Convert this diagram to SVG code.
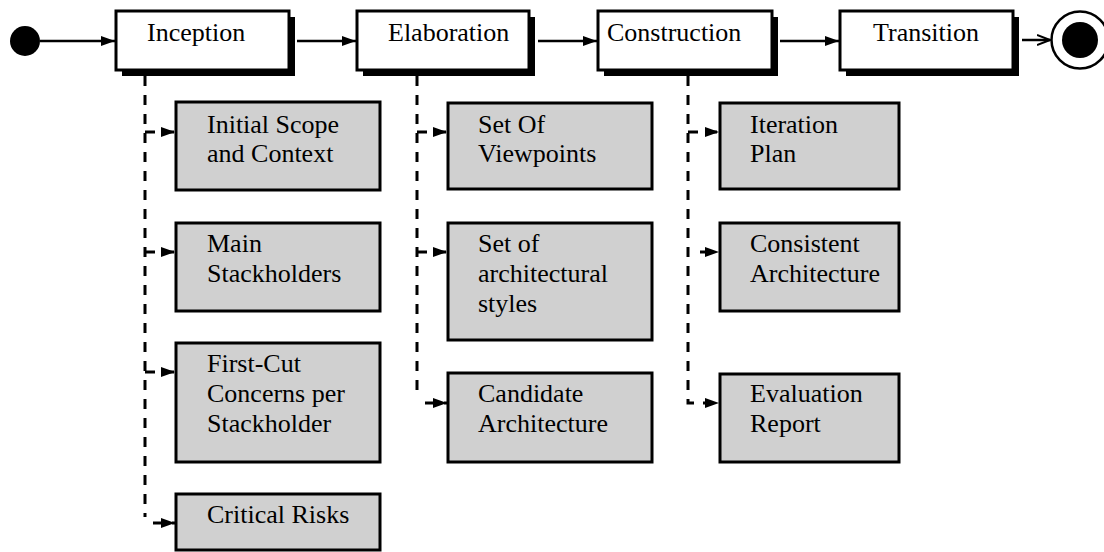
<svg xmlns="http://www.w3.org/2000/svg" width="1104" height="552" viewBox="0 0 1104 552">
<defs>
<style>
.t{font-size:26px;fill:#000}
.phase{fill:#fff;stroke:#000;stroke-width:3}
.shadow{fill:#000}
.art{fill:#d0d0d0;stroke:#000;stroke-width:3}
.flow{fill:none;stroke:#000;stroke-width:2.5}
.dash{fill:none;stroke:#000;stroke-width:3;stroke-dasharray:10 9}
</style>
<marker id="ah" markerUnits="userSpaceOnUse" markerWidth="15" markerHeight="11" refX="14" refY="5.5" orient="auto">
<path d="M0,0.5 L14,5.5 L0,10.5 Z" fill="#000"/>
</marker>
<marker id="open" markerUnits="userSpaceOnUse" markerWidth="14" markerHeight="12" refX="13" refY="6" orient="auto">
<path d="M0,1 L13,6 L0,11" fill="none" stroke="#000" stroke-width="2"/>
</marker>
</defs>
<rect width="1104" height="552" fill="#fff"/>

<g id="connectors">
<path class="flow" d="M40 41 H115" marker-end="url(#ah)"/>
<path class="flow" d="M297 41 H356" marker-end="url(#ah)"/>
<path class="flow" d="M538 41 H597" marker-end="url(#ah)"/>
<path class="flow" d="M780 41 H839" marker-end="url(#ah)"/>
<path class="flow" d="M1022 40 H1050" marker-end="url(#open)"/>

<path class="dash" d="M145 76 V517"/>
<path class="dash" d="M145 132 H175" marker-end="url(#ah)"/>
<path class="dash" d="M145 252 H175" marker-end="url(#ah)"/>
<path class="dash" d="M145 372 H175" marker-end="url(#ah)"/>
<path class="dash" d="M153 523 H175" marker-end="url(#ah)"/>

<path class="dash" d="M417 76 V397"/>
<path class="dash" d="M417 132 H447" marker-end="url(#ah)"/>
<path class="dash" d="M417 252 H447" marker-end="url(#ah)"/>
<path class="dash" d="M425 403 H447" marker-end="url(#ah)"/>

<path class="dash" d="M688 76 V403 H719" marker-end="url(#ah)"/>
<path class="dash" d="M688 132 H719" marker-end="url(#ah)"/>
<path class="dash" d="M700 252 H719" marker-end="url(#ah)"/>
</g>

<g id="start"><circle cx="25" cy="41" r="15" fill="#000"/></g>
<g id="end">
<circle cx="1080" cy="40" r="28.5" fill="#fff" stroke="#000" stroke-width="2.5"/>
<circle cx="1080" cy="40" r="18" fill="#000"/>
</g>

<g font-family="Liberation Serif, Times New Roman, DejaVu Serif, serif">
<g id="inception">
<rect class="shadow" x="122" y="17" width="173" height="59"/>
<rect class="phase" x="116" y="11" width="173" height="59"/>
<text class="t" x="147" y="41">Inception</text>
</g>
<g id="elaboration">
<rect class="shadow" x="363" y="17" width="172" height="59"/>
<rect class="phase" x="357" y="11" width="172" height="59"/>
<text class="t" x="388" y="41">Elaboration</text>
</g>
<g id="construction">
<rect class="shadow" x="604" y="17" width="174" height="59"/>
<rect class="phase" x="598" y="11" width="174" height="59"/>
<text class="t" x="607" y="41">Construction</text>
</g>
<g id="transition">
<rect class="shadow" x="846" y="17" width="173" height="59"/>
<rect class="phase" x="840" y="11" width="173" height="59"/>
<text class="t" x="873" y="41">Transition</text>
</g>

<g id="initial-scope">
<rect class="art" x="176" y="102" width="204" height="88"/>
<text class="t" x="207" y="133">Initial Scope</text>
<text class="t" x="207" y="162">and Context</text>
</g>
<g id="main-stakeholders">
<rect class="art" x="176" y="223" width="204" height="88"/>
<text class="t" x="207" y="252">Main</text>
<text class="t" x="207" y="282">Stackholders</text>
</g>
<g id="first-cut">
<rect class="art" x="176" y="343" width="204" height="119"/>
<text class="t" x="207" y="372">First-Cut</text>
<text class="t" x="207" y="402">Concerns per</text>
<text class="t" x="207" y="432">Stackholder</text>
</g>
<g id="critical-risks">
<rect class="art" x="176" y="494" width="204" height="56"/>
<text class="t" x="207" y="523">Critical Risks</text>
</g>

<g id="viewpoints">
<rect class="art" x="448" y="103" width="204" height="86"/>
<text class="t" x="478" y="133">Set Of</text>
<text class="t" x="478" y="162">Viewpoints</text>
</g>
<g id="styles">
<rect class="art" x="448" y="223" width="204" height="117"/>
<text class="t" x="478" y="252">Set of</text>
<text class="t" x="478" y="282">architectural</text>
<text class="t" x="478" y="312">styles</text>
</g>
<g id="candidate">
<rect class="art" x="448" y="373" width="204" height="89"/>
<text class="t" x="478" y="402">Candidate</text>
<text class="t" x="478" y="432">Architecture</text>
</g>

<g id="iteration-plan">
<rect class="art" x="720" y="103" width="179" height="86"/>
<text class="t" x="750" y="133">Iteration</text>
<text class="t" x="750" y="162">Plan</text>
</g>
<g id="consistent">
<rect class="art" x="720" y="223" width="179" height="88"/>
<text class="t" x="750" y="252">Consistent</text>
<text class="t" x="750" y="282">Architecture</text>
</g>
<g id="evaluation">
<rect class="art" x="720" y="374" width="179" height="88"/>
<text class="t" x="750" y="402">Evaluation</text>
<text class="t" x="750" y="432">Report</text>
</g>
</g>
</svg>
